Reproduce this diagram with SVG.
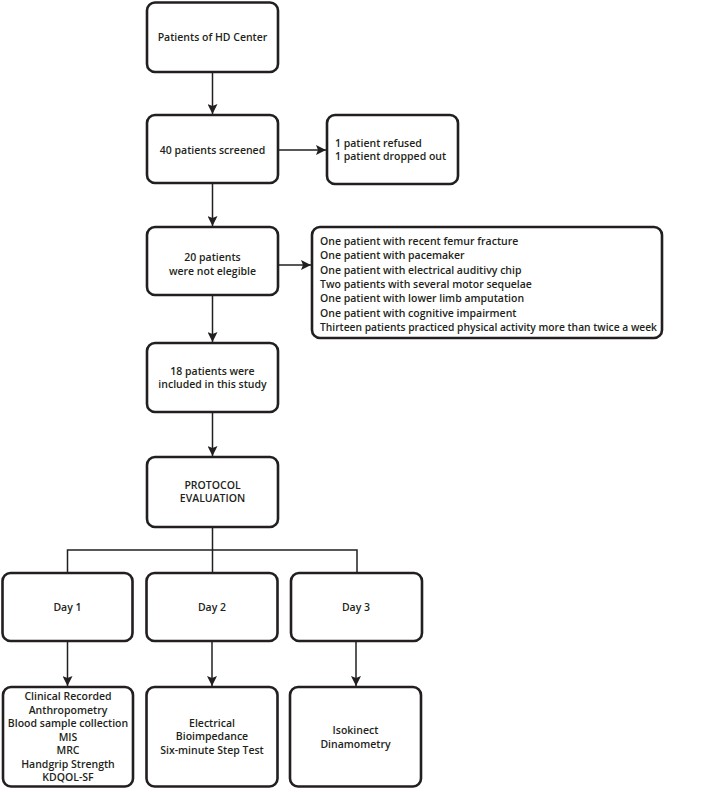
<svg xmlns="http://www.w3.org/2000/svg" width="709" height="789" viewBox="0 0 709 789">
<style>
.box{fill:#fff;stroke:#231f20;stroke-width:2.6}
.t{font-family:"Open Sans","Noto Sans",sans-serif;font-weight:600;font-size:10.5px;fill:#231f20}
.c{text-anchor:middle}
.ln{fill:none;stroke:#231f20;stroke-width:1.5}
</style>
<defs>
<marker id="ah" viewBox="0 0 10 10" refX="10" refY="5" markerWidth="10" markerHeight="10" markerUnits="userSpaceOnUse" orient="auto">
<path d="M0,0 L10,5 L0,10 L2,5 Z" fill="#231f20"/>
</marker>
</defs>
<rect width="709" height="789" fill="#fff"/>
<g id="connectors">
<line class="ln" x1="212.5" y1="72" x2="212.5" y2="114" marker-end="url(#ah)"/>
<line class="ln" x1="278" y1="150" x2="326" y2="150" marker-end="url(#ah)"/>
<line class="ln" x1="212.5" y1="183" x2="212.5" y2="226" marker-end="url(#ah)"/>
<line class="ln" x1="278" y1="265" x2="311" y2="265" marker-end="url(#ah)"/>
<line class="ln" x1="212.5" y1="295" x2="212.5" y2="342" marker-end="url(#ah)"/>
<line class="ln" x1="212.5" y1="412" x2="212.5" y2="456" marker-end="url(#ah)"/>
<polyline class="ln" points="212.5,527 212.5,550"/>
<polyline class="ln" points="67.5,573 67.5,550 357,550 357,573"/>
<line class="ln" x1="212.5" y1="550" x2="212.5" y2="573"/>
<line class="ln" x1="67.5" y1="641" x2="67.5" y2="686" marker-end="url(#ah)"/>
<line class="ln" x1="212" y1="641" x2="212" y2="686" marker-end="url(#ah)"/>
<line class="ln" x1="356" y1="641" x2="356" y2="686" marker-end="url(#ah)"/>
</g>
<g id="n1"><rect class="box" x="147" y="2.5" width="131" height="69.5" rx="8"/><text class="t c" x="212.5" y="40.5">Patients of HD Center</text></g>
<g id="n2"><rect class="box" x="147" y="115" width="131" height="68" rx="8"/><text class="t c" x="212.5" y="153.5">40 patients screened</text></g>
<g id="n2r"><rect class="box" x="327" y="115" width="131" height="69" rx="8"/><text class="t" x="335" y="146.5">1 patient refused</text><text class="t" x="335" y="160">1 patient dropped out</text></g>
<g id="n3"><rect class="box" x="147" y="227" width="131" height="68" rx="8"/><text class="t c" x="212.5" y="261">20 patients</text><text class="t c" x="212.5" y="275">were not elegible</text></g>
<g id="n3r"><rect class="box" x="312" y="227" width="350" height="111" rx="8"/>
<text class="t" x="320" y="244.5">One patient with recent femur fracture</text>
<text class="t" x="320" y="259">One patient with pacemaker</text>
<text class="t" x="320" y="273.5">One patient with electrical auditivy chip</text>
<text class="t" x="320" y="288">Two patients with several motor sequelae</text>
<text class="t" x="320" y="302">One patient with lower limb amputation</text>
<text class="t" x="320" y="316.5">One patient with cognitive impairment</text>
<text class="t" x="320" y="331" textLength="337" lengthAdjust="spacingAndGlyphs">Thirteen patients practiced physical activity more than twice a week</text></g>
<g id="n4"><rect class="box" x="147" y="343" width="131" height="69" rx="8"/><text class="t c" x="212.5" y="374.5">18 patients were</text><text class="t c" x="212.5" y="388">included in this study</text></g>
<g id="n5"><rect class="box" x="147" y="457" width="131" height="70" rx="8"/><text class="t c" x="212.5" y="488.5">PROTOCOL</text><text class="t c" x="212.5" y="502">EVALUATION</text></g>
<g id="d1"><rect class="box" x="2.5" y="573" width="130" height="68" rx="8"/><text class="t c" x="67.5" y="610.5">Day 1</text></g>
<g id="d2"><rect class="box" x="146.5" y="573" width="131" height="68" rx="8"/><text class="t c" x="212" y="610.5">Day 2</text></g>
<g id="d3"><rect class="box" x="291" y="573" width="131" height="68" rx="8"/><text class="t c" x="356" y="610.5">Day 3</text></g>
<g id="b1"><rect class="box" x="3" y="687" width="130" height="99.5" rx="8"/>
<text class="t c" x="68" y="699.5">Clinical Recorded</text>
<text class="t c" x="68" y="713.5">Anthropometry</text>
<text class="t c" x="68" y="727">Blood sample collection</text>
<text class="t c" x="68" y="740.5">MIS</text>
<text class="t c" x="68" y="754">MRC</text>
<text class="t c" x="68" y="767.5">Handgrip Strength</text>
<text class="t c" x="68" y="781">KDQOL-SF</text></g>
<g id="b2"><rect class="box" x="146.5" y="687" width="131" height="99.5" rx="8"/>
<text class="t c" x="212" y="726.5">Electrical</text>
<text class="t c" x="212" y="740">Bioimpedance</text>
<text class="t c" x="212" y="754">Six-minute Step Test</text></g>
<g id="b3"><rect class="box" x="290" y="687" width="131" height="99.5" rx="8"/>
<text class="t c" x="355.5" y="733.5">Isokinect</text>
<text class="t c" x="355.5" y="747.5">Dinamometry</text></g>
</svg>
